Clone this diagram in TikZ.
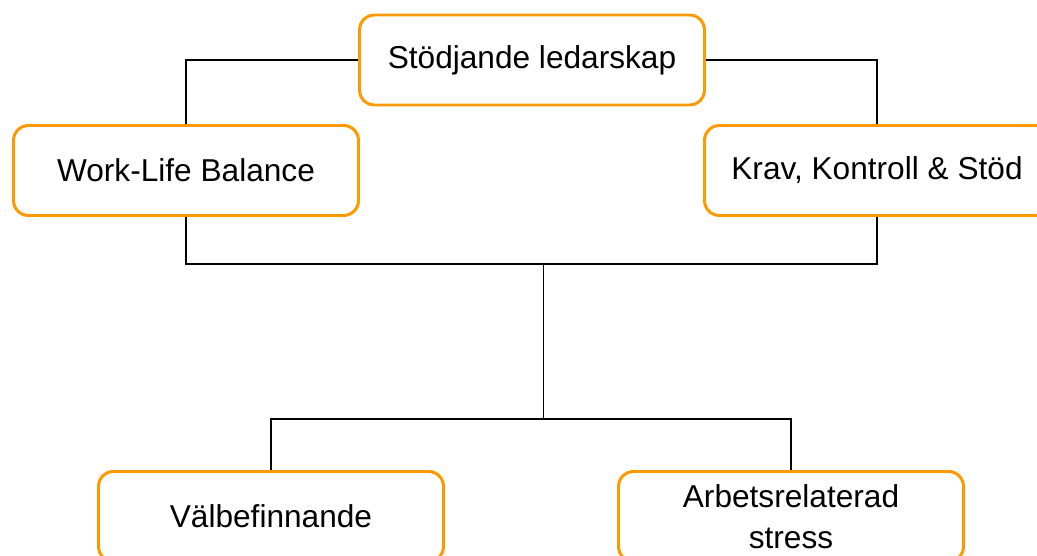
\documentclass[tikz,border=0pt]{standalone}
\usepackage{fontspec}
\setmainfont{Liberation Sans}
\usepackage{tikz}
\usetikzlibrary{positioning,calc}
\definecolor{colorbox}{HTML}{FF9900}
\tikzset{
  topic/.style={draw=colorbox, line width=1.7pt, rounded corners=0.3cm, fill=white,
    minimum width=6.9cm, minimum height=1.8cm, align=center, font=\fontsize{18}{23}\selectfont},
  edgetree/.style={black, line width=0.8pt}
}

\begin{document}
\begin{tikzpicture}
\clip (0,0) rectangle (20.74,-11.12);
\useasboundingbox (0,0) rectangle (20.74,-11.12);
\node[topic] (sl) at (10.64,-1.2) {Stödjande ledarskap};
\node[topic] (wlb) at (3.72,-3.41) {Work-Life Balance};
\node[topic] (kks) at (17.54,-3.41) {Krav, Kontroll \& Stöd};
\node[topic] (vb) at (5.42,-10.33) {Välbefinnande};
\node[topic] (ars) at (15.82,-10.33) {Arbetsrelaterad\\stress};
\coordinate (jt) at (10.87,-5.28);
\coordinate (jb) at (10.87,-8.38);
\draw[edgetree] (sl.west) -| (wlb.north);
\draw[edgetree] (sl.east) -| (kks.north);
\draw[edgetree] (wlb.south) |- (jt) -| (kks.south);
\draw[edgetree] (jt) -- (jb);
\draw[edgetree] (vb.north) |- (jb) -| (ars.north);
\end{tikzpicture}
\end{document}
